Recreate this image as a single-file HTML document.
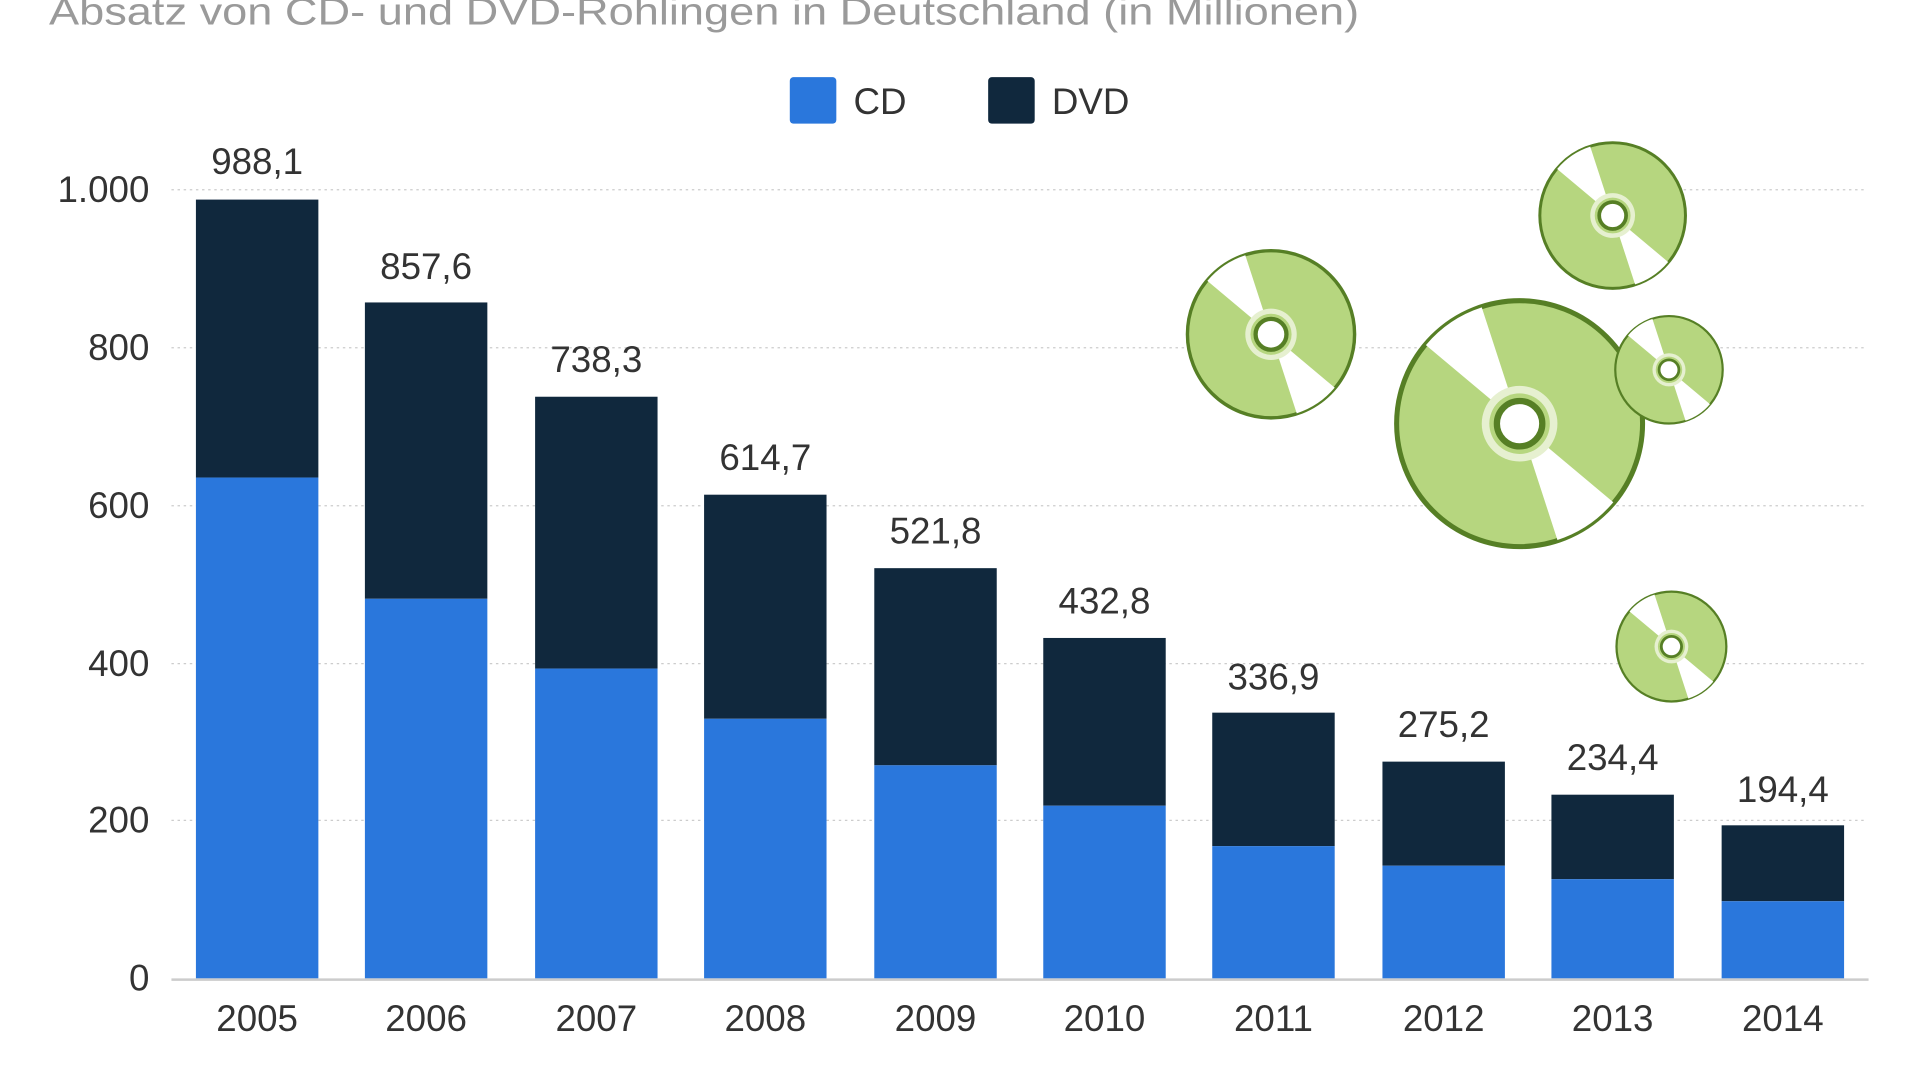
<!DOCTYPE html>
<html><head><meta charset="utf-8"><style>
html,body{margin:0;padding:0;background:#fff;width:1920px;height:1080px;overflow:hidden}
svg text{font-family:"Liberation Sans","DejaVu Sans",sans-serif}
</style></head><body>
<svg width="1920" height="1080" viewBox="0 0 1568 882" xmlns="http://www.w3.org/2000/svg">
<defs>
<g id="disc">
<circle cx="0" cy="0" r="0.975" fill="#b6d67f" stroke="#567f25" stroke-width="0.04"/>
<path d="M0,0 L-0.743,-0.623 A0.97,0.97 0 0 1 -0.30,-0.922 Z" fill="#fff"/>
<path d="M0,0 L0.743,0.623 A0.97,0.97 0 0 1 0.30,0.922 Z" fill="#fff"/>
<circle cx="0" cy="0" r="0.3" fill="#e6f0d0"/>
<circle cx="0" cy="0" r="0.24" fill="#b6d67f"/>
<circle cx="0" cy="0" r="0.18" fill="#fff" stroke="#567f25" stroke-width="0.05"/>
</g>
</defs>
<text x="40" y="20" font-size="31" fill="#9a9a9a" textLength="1070" lengthAdjust="spacingAndGlyphs">Absatz von CD- und DVD-Rohlingen in Deutschland (in Millionen)</text>
<rect x="645" y="63" width="38" height="38" rx="3" fill="#2a77dc"/>
<text x="697" y="93" font-size="30" fill="#333">CD</text>
<rect x="807" y="63" width="38" height="38" rx="3" fill="#10283d"/>
<text x="859" y="93" font-size="30" fill="#333">DVD</text>
<g stroke="#ccc" stroke-width="1" stroke-dasharray="2,3">
<line x1="140" y1="155" x2="1525" y2="155"/><line x1="140" y1="284" x2="1525" y2="284"/>
<line x1="140" y1="413" x2="1525" y2="413"/><line x1="140" y1="542" x2="1525" y2="542"/>
<line x1="140" y1="670" x2="1525" y2="670"/>
</g>
<g font-size="30" fill="#333" text-anchor="end">
<text x="122" y="165">1.000</text><text x="122" y="294">800</text><text x="122" y="423">600</text>
<text x="122" y="552">400</text><text x="122" y="680">200</text><text x="122" y="809">0</text>
</g>
<g>
<rect x="160" y="163" width="100" height="227" fill="#10283d"/><rect x="160" y="390" width="100" height="409" fill="#2a77dc"/>
<rect x="298" y="247" width="100" height="242" fill="#10283d"/><rect x="298" y="489" width="100" height="310" fill="#2a77dc"/>
<rect x="437" y="324" width="100" height="222" fill="#10283d"/><rect x="437" y="546" width="100" height="253" fill="#2a77dc"/>
<rect x="575" y="404" width="100" height="183" fill="#10283d"/><rect x="575" y="587" width="100" height="212" fill="#2a77dc"/>
<rect x="714" y="464" width="100" height="161" fill="#10283d"/><rect x="714" y="625" width="100" height="174" fill="#2a77dc"/>
<rect x="852" y="521" width="100" height="137" fill="#10283d"/><rect x="852" y="658" width="100" height="141" fill="#2a77dc"/>
<rect x="990" y="582" width="100" height="109" fill="#10283d"/><rect x="990" y="691" width="100" height="108" fill="#2a77dc"/>
<rect x="1129" y="622" width="100" height="85" fill="#10283d"/><rect x="1129" y="707" width="100" height="92" fill="#2a77dc"/>
<rect x="1267" y="649" width="100" height="69" fill="#10283d"/><rect x="1267" y="718" width="100" height="81" fill="#2a77dc"/>
<rect x="1406" y="674" width="100" height="62" fill="#10283d"/><rect x="1406" y="736" width="100" height="63" fill="#2a77dc"/>
</g>
<line x1="140" y1="800" x2="1526" y2="800" stroke="#ccc" stroke-width="2"/>
<g font-size="30" fill="#333" text-anchor="middle">
<text x="210" y="142">988,1</text><text x="348" y="228">857,6</text><text x="487" y="304">738,3</text>
<text x="625" y="384">614,7</text><text x="764" y="444">521,8</text><text x="902" y="501">432,8</text>
<text x="1040" y="563">336,9</text><text x="1179" y="602">275,2</text><text x="1317" y="629">234,4</text>
<text x="1456" y="655">194,4</text>
<text x="210" y="842">2005</text><text x="348" y="842">2006</text><text x="487" y="842">2007</text>
<text x="625" y="842">2008</text><text x="764" y="842">2009</text><text x="902" y="842">2010</text>
<text x="1040" y="842">2011</text><text x="1179" y="842">2012</text><text x="1317" y="842">2013</text>
<text x="1456" y="842">2014</text>
</g>
<use href="#disc" transform="translate(1038,273) scale(70)"/>
<use href="#disc" transform="translate(1317,176) scale(61)"/>
<use href="#disc" transform="translate(1241,346) scale(103)"/>
<use href="#disc" transform="translate(1363,302) scale(45)"/>
<use href="#disc" transform="translate(1365,528) scale(46)"/>
</svg>
</body></html>
